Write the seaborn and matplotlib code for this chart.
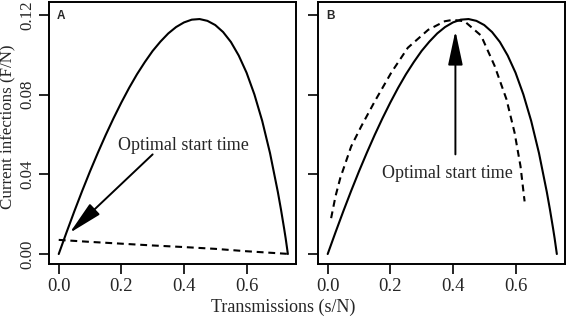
import matplotlib
matplotlib.use("Agg")
import matplotlib.pyplot as plt
import seaborn as sns

# solid curve: current infections vs cumulative transmissions (both panels)
trans = [0.0, 0.025, 0.05, 0.075, 0.1, 0.125, 0.15, 0.175, 0.2, 0.225, 0.25,
         0.275, 0.3, 0.325, 0.35, 0.375, 0.4, 0.425, 0.45, 0.475, 0.5, 0.525,
         0.55, 0.575, 0.6, 0.625, 0.65, 0.675, 0.7, 0.71, 0.72, 0.725, 0.732]
infect = [0.0, 0.0109, 0.0215, 0.0317, 0.0415, 0.0508, 0.0597, 0.0681, 0.0760,
          0.0834, 0.0902, 0.0963, 0.1019, 0.1066, 0.1107, 0.1139, 0.1162, 0.1176,
          0.1179, 0.1170, 0.1149, 0.1114, 0.1064, 0.0996, 0.0910, 0.0801, 0.0668,
          0.0506, 0.0311, 0.0223, 0.0128, 0.0078, 0.0]

# dashed curve, panel A
dash_a_x = [0.0, 0.1, 0.2, 0.3, 0.4, 0.5, 0.6, 0.7, 0.73]
dash_a_y = [0.0071, 0.0061, 0.0052, 0.0043, 0.0035, 0.0026, 0.0014, 0.0004, 0.0001]

# dashed curve, panel B
dash_b_x = [0.011, 0.025, 0.04, 0.075, 0.107, 0.15, 0.203, 0.256, 0.321, 0.374,
            0.40, 0.437, 0.49, 0.533, 0.571, 0.597, 0.616, 0.629]
dash_b_y = [0.018, 0.029, 0.038, 0.054, 0.064, 0.0765, 0.091, 0.1035, 0.1125,
            0.1168, 0.1175, 0.1168, 0.1096, 0.0945, 0.0777, 0.0609, 0.044, 0.0264]

xticks = [0.0, 0.2, 0.4, 0.6]
yticks = [0.00, 0.04, 0.08, 0.12]
note = "Optimal start time"

sns.set_style("ticks")
plt.rcParams["font.family"] = ["Liberation Serif", "DejaVu Serif"]
plt.rcParams["axes.linewidth"] = 1.4

fig = plt.figure(figsize=(5.66, 3.2), dpi=100)
ax_a = fig.add_axes([0.0866, 0.175, 0.4364, 0.819])
ax_b = fig.add_axes([0.5618, 0.175, 0.4364, 0.819])

arrow = dict(arrowstyle="-|>,head_length=2.1,head_width=0.45", color="black",
             lw=1.4, shrinkA=0, shrinkB=0)

for ax, dx, dy, lab in [(ax_a, dash_a_x, dash_a_y, "A"), (ax_b, dash_b_x, dash_b_y, "B")]:
    sns.lineplot(x=trans, y=infect, ax=ax, color="black", lw=1.5, sort=False)
    sns.lineplot(x=dx, y=dy, ax=ax, color="black", lw=1.5, sort=False, linestyle="--")
    ax.lines[-1].set_dashes([3.3, 2.3])
    ax.set_xlim(-0.031, 0.758)
    ax.set_ylim(-0.005, 0.1265)
    ax.set_xticks(xticks)
    ax.set_xticklabels([f"{t:.1f}" for t in xticks])
    ax.set_yticks(yticks)
    ax.tick_params(length=7, width=1.2, color="black")
    ax.tick_params(axis="x", pad=3, labelsize=13.5)
    ax.tick_params(axis="y", pad=3, labelsize=12.2)
    for s in ax.spines.values():
        s.set_color("black")
    ax.text(0.032, 0.947, lab, transform=ax.transAxes, fontsize=8.5,
            fontweight="bold", family="Liberation Sans", va="center", ha="left")

ax_a.set_yticklabels([f"{t:.2f}" for t in yticks], rotation=90, va="center")
ax_b.set_yticklabels([])

ax_a.text(0.397, 0.0547, note, ha="center", va="center", fontsize=13)
ax_a.annotate("", xy=(0.035, 0.0106), xytext=(0.30, 0.050), arrowprops=arrow)

ax_b.text(0.381, 0.0402, note, ha="center", va="center", fontsize=13)
ax_b.annotate("", xy=(0.408, 0.112), xytext=(0.408, 0.050), arrowprops=arrow)

fig.text(0.5, 0.038, "Transmissions (s/N)", ha="center", va="center", fontsize=13)
fig.text(0.014, 0.605, "Current infections (F/N)", ha="center", va="center",
         rotation=90, fontsize=12.2)

fig.savefig("out.png", dpi=100)
